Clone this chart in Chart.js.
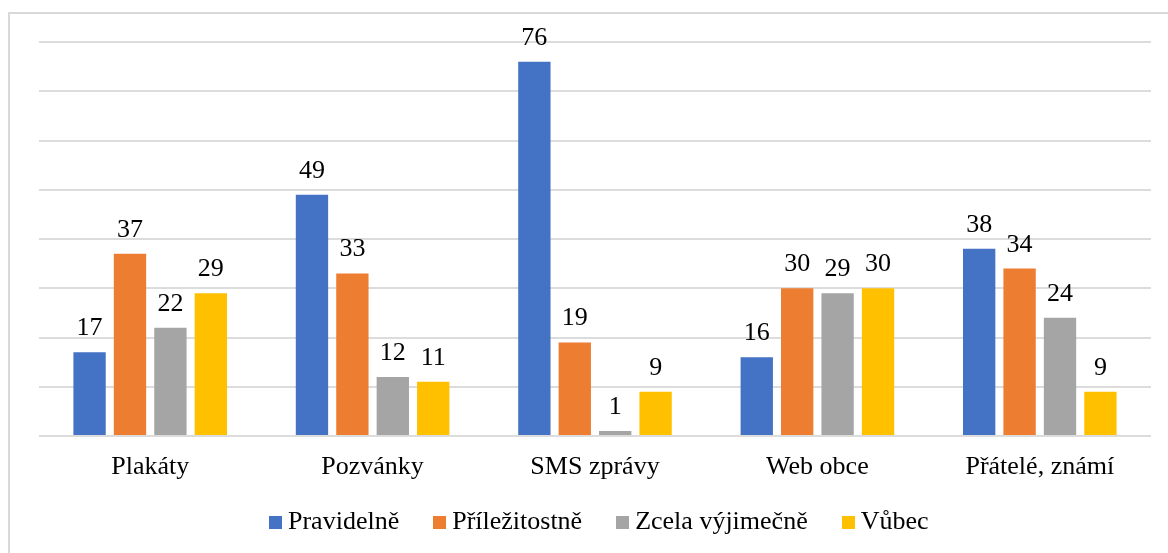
<!DOCTYPE html>
<html>
<head>
<meta charset="utf-8">
<script src="https://cdn.jsdelivr.net/npm/chart.js@4.4.1/dist/chart.umd.min.js"></script>
<style>
  html, body { margin: 0; padding: 0; background: #ffffff; overflow: hidden; }
  #wrap { position: relative; width: 1168px; height: 553px; }
  #frame { position: absolute; left: 8px; top: 12px; width: 1200px; height: 600px; border: 2px solid #d9d9d9; box-sizing: border-box; }
  canvas { position: absolute; left: 0; top: 0; }
  .probe { font-family: 'Liberation Serif'; position: absolute; left: -9999px; }
</style>
</head>
<body>
<div id="wrap">
  <div id="frame"></div>
  <canvas id="c" width="1168" height="553"></canvas>
</div>
<span class="probe">Přátelé</span>
<script>
const categories = ["Plakáty", "Pozvánky", "SMS zprávy", "Web obce", "Přátelé, známí"];
const seriesNames = ["Pravidelně", "Příležitostně", "Zcela výjimečně", "Vůbec"];
const pravidelne = [17, 49, 76, 16, 38];
const prilezitostne = [37, 33, 19, 30, 34];
const zcelaVyjimecne = [22, 12, 1, 29, 24];
const vubec = [29, 11, 9, 30, 9];
const colors = ["#4472C4", "#ED7D31", "#A5A5A5", "#FFC000"];

const FONT = "'Liberation Serif', 'Times New Roman', serif";
const FS = 26;

const dataLabels = {
  id: 'dataLabels',
  afterDatasetsDraw(chart) {
    const ctx = chart.ctx;
    ctx.save();
    ctx.font = FS + "px " + FONT;
    ctx.fillStyle = "#000000";
    ctx.textAlign = "center";
    ctx.textBaseline = "alphabetic";
    chart.data.datasets.forEach((ds, i) => {
      const meta = chart.getDatasetMeta(i);
      meta.data.forEach((bar, j) => {
        ctx.fillText(String(ds.data[j]), bar.x, bar.y - 17);
      });
    });
    ctx.restore();
  }
};

const customLegend = {
  id: 'customLegend',
  afterDraw(chart) {
    const ctx = chart.ctx;
    ctx.save();
    ctx.font = FS + "px " + FONT;
    const box = 13, gap = 6, spacing = 34;
    const items = chart.data.datasets.map(ds => ({ label: ds.label, color: ds.backgroundColor, w: ctx.measureText(ds.label).width }));
    let total = 0;
    items.forEach((it, i) => { total += box + gap + it.w + (i < items.length - 1 ? spacing : 0); });
    let x = Math.round(599 - total / 2);
    const baseY = 529;
    items.forEach(it => {
      ctx.fillStyle = it.color;
      ctx.fillRect(Math.round(x), baseY - 13, box, box);
      ctx.fillStyle = "#000000";
      ctx.textAlign = "left";
      ctx.textBaseline = "alphabetic";
      ctx.fillText(it.label, x + box + gap, baseY);
      x += box + gap + it.w + spacing;
    });
    ctx.restore();
  }
};

const seriesData = [pravidelne, prilezitostne, zcelaVyjimecne, vubec];

function draw() {
  new Chart(document.getElementById('c'), {
    type: 'bar',
    data: {
      labels: categories,
      datasets: seriesNames.map((name, i) => ({
        label: name,
        data: seriesData[i],
        backgroundColor: colors[i],
        borderWidth: 0,
        categoryPercentage: 0.727,
        barPercentage: 0.8
      }))
    },
    options: {
      responsive: false,
      animation: false,
      events: [],
      layout: { padding: { left: 39, right: 17, top: 42, bottom: 0 } },
      plugins: {
        legend: { display: false },
        tooltip: { enabled: false },
        title: { display: false }
      },
      scales: {
        x: {
          grid: { display: false, drawTicks: false },
          border: { display: false },
          ticks: { color: "#000000", font: { family: FONT, size: FS }, padding: 16, maxRotation: 0 },
          afterFit(scale) { scale.height = 117; }
        },
        y: {
          min: 0, max: 80,
          ticks: { display: false, stepSize: 10 },
          grid: { color: "#dcdcdc", lineWidth: 2, drawTicks: false },
          border: { display: false },
          afterFit(scale) { scale.width = 0; }
        }
      }
    },
    plugins: [dataLabels, customLegend]
  });
}

const loadFonts = (document.fonts && document.fonts.load)
  ? Promise.all([document.fonts.load(FS + "px 'Liberation Serif'", "Přátelé 0123456789")]).catch(() => {})
  : Promise.resolve();
loadFonts.then(draw, draw);
</script>
</body>
</html>
